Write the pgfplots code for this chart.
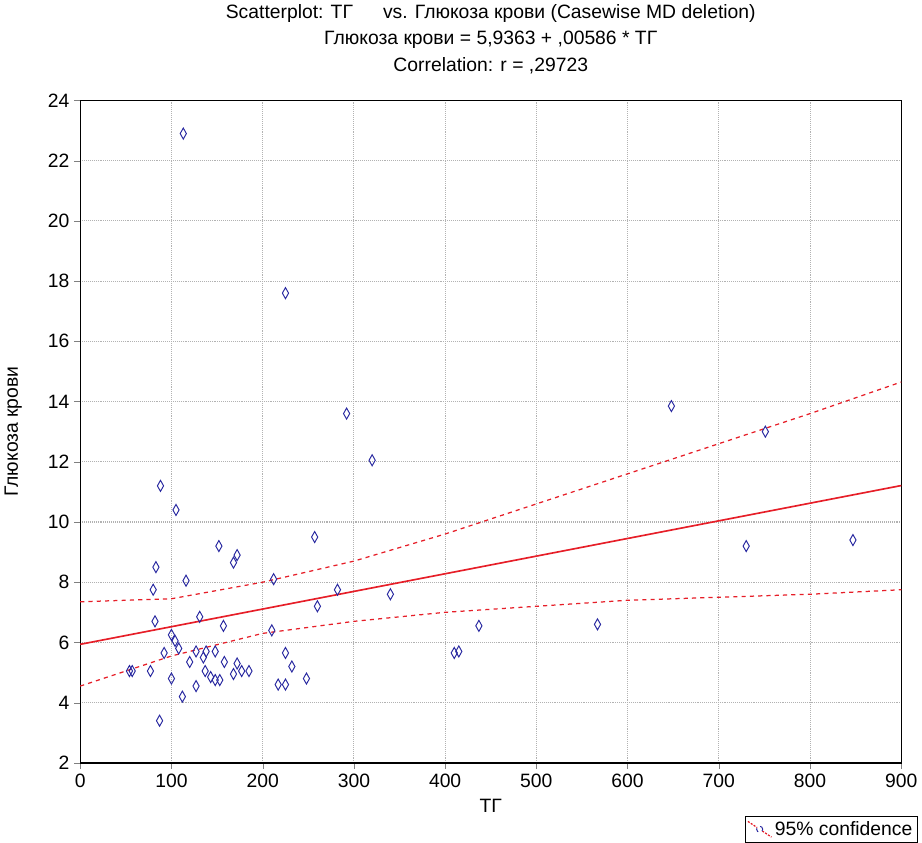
\documentclass[border=0pt]{standalone}
\usepackage{pgfplots}
\pgfplotsset{compat=1.18}
\usepackage{fontspec}
\setmainfont{Liberation Sans}
\definecolor{pb}{RGB}{40,40,160}
\definecolor{lr}{RGB}{230,30,40}
\begin{document}
\begin{tikzpicture}
\begin{axis}[
  width=595pt, height=480pt, scale only axis,
  xmin=0, xmax=900, ymin=2, ymax=24,
  xtick={0,100,...,900}, ytick={2,4,...,24},
  /pgf/number format/assume math mode=true,
  tick label style={font=\fontsize{14}{16}\selectfont},
  grid=major, grid style={densely dotted, gray!60, line width=0.8pt},
  axis line style={line width=1pt},
  tick align=outside, tick pos=left,
  xlabel={ТГ}, ylabel={Глюкоза крови},
  label style={font=\fontsize{14}{16}\selectfont},
  ylabel style={yshift=12pt},
  xlabel style={yshift=-2pt},
  title style={font=\fontsize{14}{19}\selectfont, align=center, yshift=10pt},
  title={Scatterplot: ТГ\quad\ \ vs. Глюкоза крови (Casewise MD deletion)\\Глюкоза крови = 5,9363 + ,00586 * ТГ\\Correlation: r = ,29723},
  legend style={at={(1.02,-0.08)}, anchor=north east, font=\fontsize{14}{16}\selectfont, draw=black, line width=0.8pt, inner sep=1.5pt},
  legend image code/.code={\draw[lr,dash pattern=on 1.5pt off 1pt,line width=0.9pt] (0cm,0.2cm)--(0.6cm,-0.2cm); \draw[pb,line width=0.7pt,fill=white] (0.3cm,0cm) circle (2.2pt);},
  legend cell align=left,
]
\addplot[only marks, mark=diamond, mark options={pb, line width=0.7pt, xscale=1.5, yscale=2.0}, forget plot] coordinates {
(113,22.9)(225,17.6)(292,13.6)(320,12.05)(88,11.2)(105,10.4)(257,9.5)(152,9.2)(172,8.9)(168,8.65)(83,8.5)(116,8.05)(212,8.1)(282,7.75)(80,7.75)(340,7.6)(260,7.2)(131,6.85)(82,6.7)(157,6.55)(210,6.4)(100,6.25)(104,6.05)(108,5.8)(92,5.65)(127,5.7)(138,5.7)(148,5.7)(225,5.65)(410,5.65)(415,5.7)(437,6.55)(567,6.6)(648,13.85)(751,13.0)(730,9.2)(847,9.4)(57,5.05)(54,5.05)(77,5.05)(120,5.35)(135,5.5)(158,5.35)(172,5.3)(232,5.2)(137,5.05)(143,4.85)(168,4.95)(177,5.05)(185,5.05)(100,4.8)(148,4.75)(153,4.75)(127,4.55)(112,4.2)(217,4.6)(225,4.6)(248,4.8)(87,3.4)
};
\addplot[lr, line width=1.2pt, forget plot] coordinates {(0,5.9363)(900,11.2103)};
\addplot[lr, dashed, line width=0.9pt] coordinates {(0,7.35)(100,7.45)(200,8.0)(300,8.7)(400,9.6)(500,10.6)(600,11.6)(700,12.6)(800,13.6)(900,14.65)};
\addlegendentry{95\% confidence}
\addplot[lr, dashed, line width=0.9pt, forget plot] coordinates {(0,4.55)(100,5.55)(200,6.3)(300,6.7)(400,7.0)(500,7.2)(600,7.4)(700,7.5)(800,7.6)(900,7.75)};
\end{axis}
\end{tikzpicture}
\end{document}
